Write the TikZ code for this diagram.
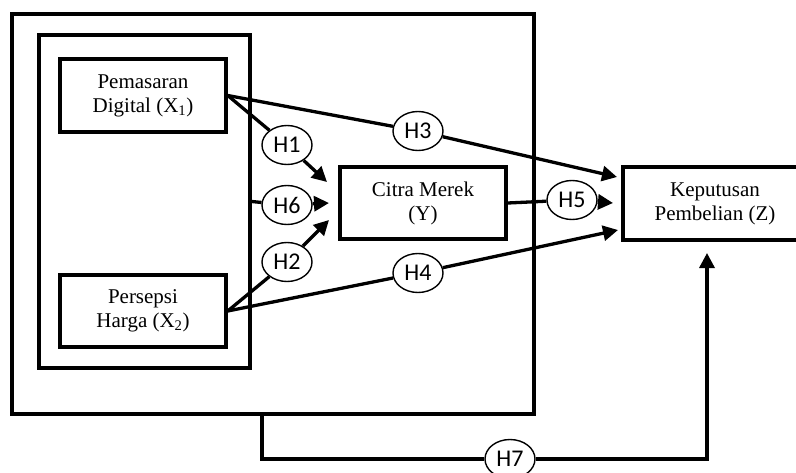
\documentclass[tikz,border=0pt]{standalone}
\usepackage{fontspec}
\setmainfont{Liberation Serif}
\newfontfamily\hfont{Carlito}
\usetikzlibrary{arrows.meta,shapes.geometric}
\begin{document}
\begin{tikzpicture}[x=1pt,y=-1pt,
  frame/.style={draw,line width=3.5pt,inner sep=0pt},
  box/.style={frame,align=center,font=\fontsize{21}{24}\selectfont},
  hyp/.style={draw,ellipse,line width=1.4pt,fill=white,minimum width=50pt,minimum height=39pt,inner sep=0pt,font=\hfont\fontsize{24}{26}\selectfont},
  conn/.style={line width=3.3pt},
  arr/.style={conn,-{Triangle[length=15pt,width=15pt]}}]
\useasboundingbox (0,0) rectangle (796,472);
% frames
\node[frame,minimum width=522pt,minimum height=400pt] (outer) at (273,214) {};
\node[frame,minimum width=211pt,minimum height=333pt] (inner) at (144.5,201.5) {};
% variables
\node[box,minimum width=166pt,minimum height=73pt] (x1) at (143,95.5) {Pemasaran\\Digital (X\textsubscript{1})};
\node[box,minimum width=166pt,minimum height=72pt] (x2) at (143,311) {Persepsi\\Harga (X\textsubscript{2})};
\node[box,minimum width=166pt,minimum height=72pt] (y) at (423,203) {Citra Merek\\(Y)};
\node[box,minimum width=184pt,minimum height=73pt] (z) at (715,203.5) {Keputusan\\Pembelian (Z)};
% hypotheses
\node[hyp] (h1) at (287,145) {H1};
\node[hyp] (h6) at (287,205) {H6};
\node[hyp] (h2) at (287,262) {H2};
\node[hyp] (h3) at (418,131) {H3};
\node[hyp] (h4) at (418,273) {H4};
\node[hyp] (h5) at (572,200) {H5};
\node[hyp] (h7) at (510,459) {H7};
% arrow tips
\coordinate (t1) at (327,182);
\coordinate (t6) at (329,203);
\coordinate (t2) at (329,220);
\coordinate (t3) at (617,177);
\coordinate (t5) at (613,203);
\coordinate (t4) at (618,230);
\coordinate (t7) at (707,253);
\coordinate (o7) at (262,414);
% connectors
\draw[conn] (x1.east) -- (h1);
\draw[arr] (h1) -- (t1);
\draw[conn] (x1.east) -- (h3);
\draw[arr] (h3) -- (t3);
\draw[conn] (inner.east) -- (h6);
\draw[arr] (h6) -- (t6);
\draw[conn] (x2.east) -- (h2);
\draw[arr] (h2) -- (t2);
\draw[conn] (x2.east) -- (h4);
\draw[arr] (h4) -- (t4);
\draw[conn] (y.east) -- (h5);
\draw[arr] (h5) -- (t5);
\draw[conn] (o7) |- (h7);
\draw[arr] (h7) -| (t7);
\end{tikzpicture}
\end{document}
